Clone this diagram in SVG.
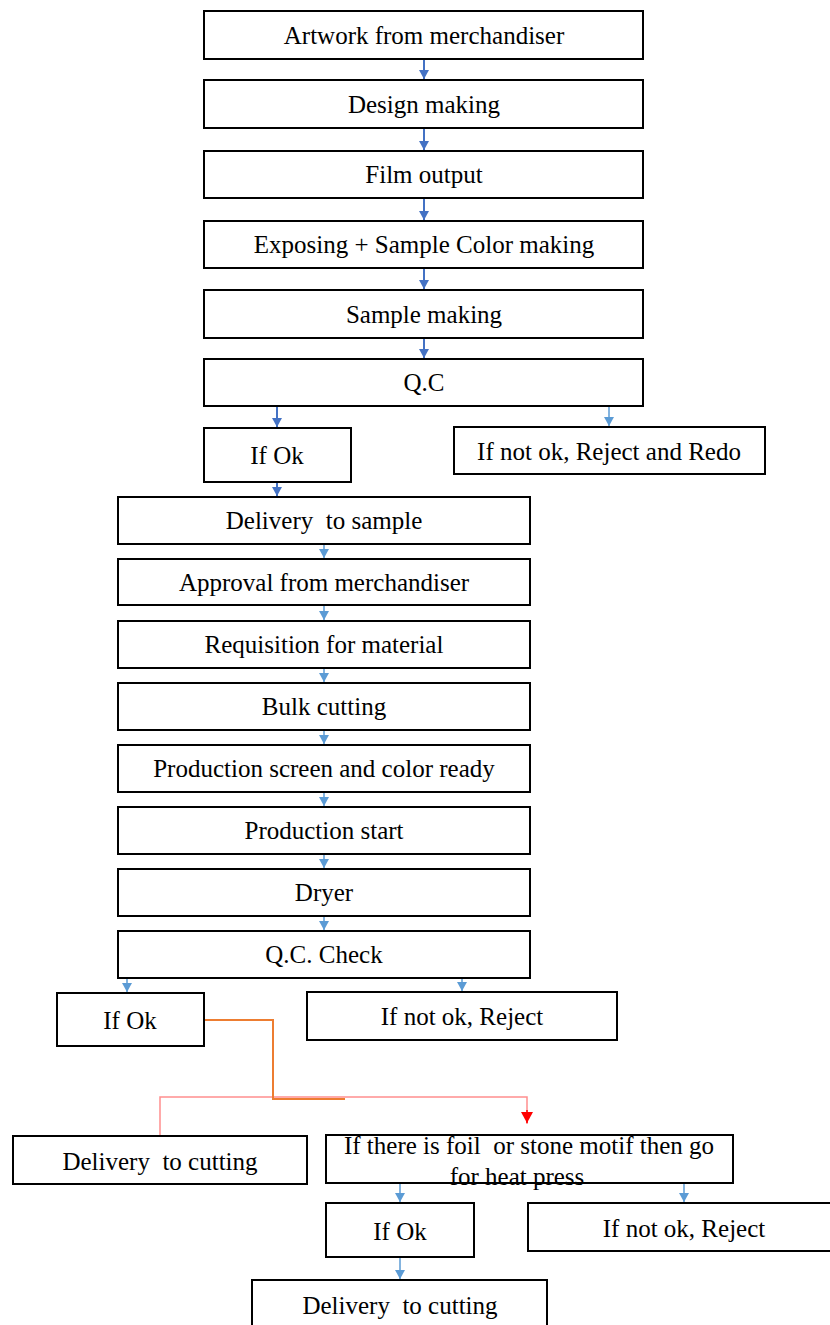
<svg xmlns="http://www.w3.org/2000/svg" width="830" height="1325" viewBox="0 0 830 1325">
  <style>
    .box { fill: #ffffff; stroke: #000000; stroke-width: 2; }
    .lbl { font-family: "Liberation Serif", "Times New Roman", serif; font-size: 25px; fill: #000000; text-anchor: middle; }
    .dk { stroke: #4472C4; stroke-width: 2; fill: none; }
    .lt { stroke: #5B9BD5; stroke-width: 1.5; fill: none; }
  </style>
  <defs>
    <marker id="hd" markerWidth="10" markerHeight="9" refX="5" refY="9" markerUnits="userSpaceOnUse" viewBox="0 0 10 9">
      <path d="M0,0 L10,0 L5,9 Z" fill="#4472C4"/>
    </marker>
    <marker id="hl" markerWidth="10" markerHeight="9" refX="5" refY="9" markerUnits="userSpaceOnUse" viewBox="0 0 10 9">
      <path d="M0,0 L10,0 L5,9 Z" fill="#5B9BD5"/>
    </marker>
    <marker id="hr" markerWidth="12" markerHeight="11" refX="6" refY="11" markerUnits="userSpaceOnUse" viewBox="0 0 12 11">
      <path d="M0,0 L12,0 L6,11 Z" fill="#FF0000"/>
    </marker>
  </defs>

  <!-- connectors -->
  <g id="connectors">
    <line class="dk" x1="424" y1="59" x2="424" y2="79" marker-end="url(#hd)"/>
    <line class="dk" x1="424" y1="128" x2="424" y2="150" marker-end="url(#hd)"/>
    <line class="dk" x1="424" y1="198" x2="424" y2="220" marker-end="url(#hd)"/>
    <line class="dk" x1="424" y1="268" x2="424" y2="289" marker-end="url(#hd)"/>
    <line class="dk" x1="424" y1="338" x2="424" y2="358" marker-end="url(#hd)"/>
    <line class="dk" x1="277" y1="406" x2="277" y2="427" marker-end="url(#hd)"/>
    <line class="lt" x1="609" y1="406" x2="609" y2="426" marker-end="url(#hl)"/>
    <line class="dk" x1="277" y1="482" x2="277" y2="496" marker-end="url(#hd)"/>

    <line class="lt" x1="324" y1="544" x2="324" y2="558" marker-end="url(#hl)"/>
    <line class="lt" x1="324" y1="605" x2="324" y2="620" marker-end="url(#hl)"/>
    <line class="lt" x1="324" y1="668" x2="324" y2="682" marker-end="url(#hl)"/>
    <line class="lt" x1="324" y1="730" x2="324" y2="744" marker-end="url(#hl)"/>
    <line class="lt" x1="324" y1="792" x2="324" y2="806" marker-end="url(#hl)"/>
    <line class="lt" x1="324" y1="854" x2="324" y2="868" marker-end="url(#hl)"/>
    <line class="lt" x1="324" y1="916" x2="324" y2="930" marker-end="url(#hl)"/>
    <line class="lt" x1="127" y1="978" x2="127" y2="992" marker-end="url(#hl)"/>
    <line class="lt" x1="462" y1="978" x2="462" y2="991" marker-end="url(#hl)"/>

    <!-- branch after second check -->
    <path d="M160,1136 L160,1097 L527,1097 L527,1124" fill="none" stroke="#FF8F8F" stroke-width="1.5"/>
    <line x1="527" y1="1110" x2="527" y2="1123" stroke="#FF0000" stroke-width="1.5" marker-end="url(#hr)"/>
    <path d="M204,1020 L273,1020 L273,1099 L345,1099" fill="none" stroke="#ED7D31" stroke-width="2"/>

    <line class="lt" x1="400" y1="1183" x2="400" y2="1202" marker-end="url(#hl)"/>
    <line class="lt" x1="684" y1="1183" x2="684" y2="1202" marker-end="url(#hl)"/>
    <line class="lt" x1="400" y1="1257" x2="400" y2="1279" marker-end="url(#hl)"/>
  </g>

  <g id="n-artwork"><rect class="box" x="204" y="11" width="439" height="48"/><text class="lbl" x="424" y="44">Artwork from merchandiser</text></g>
  <g id="n-design"><rect class="box" x="204" y="80" width="439" height="48"/><text class="lbl" x="424" y="113">Design making</text></g>
  <g id="n-film"><rect class="box" x="204" y="151" width="439" height="47"/><text class="lbl" x="424" y="183">Film output</text></g>
  <g id="n-exposing"><rect class="box" x="204" y="221" width="439" height="47"/><text class="lbl" x="424" y="253">Exposing + Sample Color making</text></g>
  <g id="n-sample"><rect class="box" x="204" y="290" width="439" height="48"/><text class="lbl" x="424" y="323">Sample making</text></g>
  <g id="n-qc"><rect class="box" x="204" y="359" width="439" height="47"/><text class="lbl" x="424" y="391">Q.C</text></g>
  <g id="n-ok1"><rect class="box" x="204" y="428" width="147" height="54"/><text class="lbl" x="277" y="464">If Ok</text></g>
  <g id="n-redo"><rect class="box" x="454" y="427" width="311" height="47"/><text class="lbl" x="609" y="460">If not ok, Reject and Redo</text></g>

  <g id="n-delivery-sample"><rect class="box" x="118" y="497" width="412" height="47"/><text class="lbl" x="324" y="529">Delivery&#160; to sample</text></g>
  <g id="n-approval"><rect class="box" x="118" y="559" width="412" height="46"/><text class="lbl" x="324" y="591">Approval from merchandiser</text></g>
  <g id="n-requisition"><rect class="box" x="118" y="621" width="412" height="47"/><text class="lbl" x="324" y="653">Requisition for material</text></g>
  <g id="n-bulk"><rect class="box" x="118" y="683" width="412" height="47"/><text class="lbl" x="324" y="715">Bulk cutting</text></g>
  <g id="n-screen"><rect class="box" x="118" y="745" width="412" height="47"/><text class="lbl" x="324" y="777">Production screen and color ready</text></g>
  <g id="n-start"><rect class="box" x="118" y="807" width="412" height="47"/><text class="lbl" x="324" y="839">Production start</text></g>
  <g id="n-dryer"><rect class="box" x="118" y="869" width="412" height="47"/><text class="lbl" x="324" y="901">Dryer</text></g>
  <g id="n-qc-check"><rect class="box" x="118" y="931" width="412" height="47"/><text class="lbl" x="324" y="963">Q.C. Check</text></g>

  <g id="n-ok2"><rect class="box" x="57" y="993" width="147" height="53"/><text class="lbl" x="130" y="1029">If Ok</text></g>
  <g id="n-reject2"><rect class="box" x="307" y="992" width="310" height="48"/><text class="lbl" x="462" y="1025">If not ok, Reject</text></g>

  <g id="n-delivery-cut1"><rect class="box" x="13" y="1136" width="294" height="48"/><text class="lbl" x="160" y="1170">Delivery&#160; to cutting</text></g>
  <g id="n-heat-press"><rect class="box" x="326" y="1135" width="407" height="48"/><text class="lbl" x="529" y="1154">If there is foil&#160; or stone motif then go</text><text class="lbl" x="517" y="1185">for heat press</text></g>

  <g id="n-ok3"><rect class="box" x="326" y="1203" width="148" height="54"/><text class="lbl" x="400" y="1240">If Ok</text></g>
  <g id="n-reject3"><rect class="box" x="528" y="1203" width="304" height="48"/><text class="lbl" x="684" y="1237">If not ok, Reject</text></g>
  <g id="n-delivery-cut2"><rect class="box" x="252" y="1280" width="295" height="50"/><text class="lbl" x="400" y="1314">Delivery&#160; to cutting</text></g>
</svg>
